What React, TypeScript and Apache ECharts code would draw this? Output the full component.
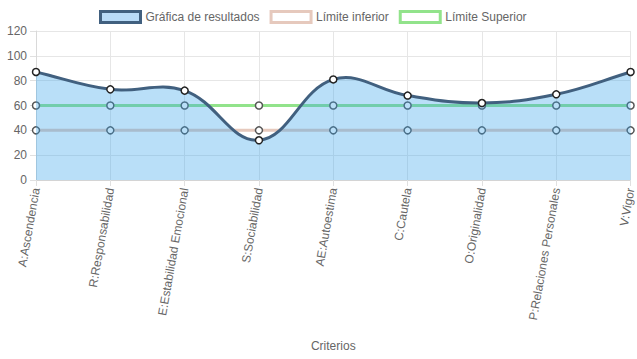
import React, { useEffect, useRef } from "react";
import * as echarts from "echarts";

const categories = [
  "A:Ascendencia",
  "R:Responsabilidad",
  "E:Estabilidad Emocional",
  "S:Sociabilidad",
  "AE:Autoestima",
  "C:Cautela",
  "O:Originalidad",
  "P:Relaciones Personales",
  "V:Vigor",
];
const resultados = [87, 73, 72, 32, 81, 68, 62, 69, 87];
const limiteInferior = [40, 40, 40, 40, 40, 40, 40, 40, 40];
const limiteSuperior = [60, 60, 60, 60, 60, 60, 60, 60, 60];
const yTicks = { min: 0, max: 120, interval: 20 };

const FONT = "Liberation Sans, Arial, Helvetica, sans-serif";
const TENSION = 0.4;

function splinePath(pts: number[][], area: { x: number; y: number; width: number; height: number }) {
  const n = pts.length;
  const clampX = (v: number) => Math.max(area.x, Math.min(area.x + area.width, v));
  const clampY = (v: number) => Math.max(area.y, Math.min(area.y + area.height, v));
  const cps: { prev: number[]; next: number[] }[] = [];
  for (let i = 0; i < n; i++) {
    const cur = pts[i];
    const prev = i > 0 ? pts[i - 1] : cur;
    const next = i < n - 1 ? pts[i + 1] : cur;
    const d01 = Math.hypot(cur[0] - prev[0], cur[1] - prev[1]);
    const d12 = Math.hypot(next[0] - cur[0], next[1] - cur[1]);
    let s01 = d01 / (d01 + d12);
    let s12 = d12 / (d01 + d12);
    if (!isFinite(s01)) s01 = 0;
    if (!isFinite(s12)) s12 = 0;
    const fa = TENSION * s01;
    const fb = TENSION * s12;
    cps.push({
      prev: [clampX(cur[0] - fa * (next[0] - prev[0])), clampY(cur[1] - fa * (next[1] - prev[1]))],
      next: [clampX(cur[0] + fb * (next[0] - prev[0])), clampY(cur[1] + fb * (next[1] - prev[1]))],
    });
  }
  let d = `M${pts[0][0]},${pts[0][1]}`;
  for (let i = 1; i < n; i++) {
    const a = cps[i - 1].next;
    const b = cps[i].prev;
    d += ` C${a[0]},${a[1]} ${b[0]},${b[1]} ${pts[i][0]},${pts[i][1]}`;
  }
  return d;
}

export default function App() {
  const ref = useRef<HTMLDivElement>(null);
  useEffect(() => {
    if (!ref.current) return;
    const chart = echarts.init(ref.current, undefined, { renderer: "svg" });
    const pointStyle = (border: string) => ({
      color: "#ffffff",
      borderColor: border,
      borderWidth: 1.5,
    });
    chart.setOption({
      animation: false,
      textStyle: { fontFamily: FONT },
      legend: {
        top: 5,
        left: 94,
        icon: "rect",
        itemWidth: 40,
        itemHeight: 11,
        itemGap: 10,
        textStyle: { color: "#666", fontSize: 12, fontFamily: FONT },
        data: [
          {
            name: "Gráfica de resultados",
            itemStyle: { color: "#b9dbf7", borderColor: "#41607f", borderWidth: 3 },
          },
          {
            name: "Límite inferior",
            itemStyle: { color: "#ffffff", borderColor: "#e6c9bd", borderWidth: 3 },
          },
          {
            name: "Límite Superior",
            itemStyle: { color: "#ffffff", borderColor: "#92e38b", borderWidth: 3 },
          },
        ],
      },
      grid: { left: 36, right: 4, top: 31, bottom: 179, containLabel: false },
      xAxis: {
        type: "category",
        data: categories,
        boundaryGap: false,
        name: "Criterios",
        nameLocation: "middle",
        nameGap: 160,
        nameTextStyle: { color: "#666", fontSize: 12, fontFamily: FONT },
        axisLine: { show: true, lineStyle: { color: "#d4d4d4", width: 1 } },
        axisTick: { show: true, length: 6, lineStyle: { color: "#e0e0e0" } },
        axisLabel: {
          rotate: 80,
          color: "#666",
          fontSize: 12,
          fontFamily: FONT,
          margin: 8,
          interval: 0,
        },
        splitLine: { show: true, lineStyle: { color: "#e6e6e6", width: 1 } },
      },
      yAxis: {
        type: "value",
        min: yTicks.min,
        max: yTicks.max,
        interval: yTicks.interval,
        axisLine: { show: true, lineStyle: { color: "#d9d9d9", width: 1 } },
        axisTick: { show: true, length: 6, lineStyle: { color: "#e0e0e0" } },
        axisLabel: { color: "#666", fontSize: 12, fontFamily: FONT, margin: 9 },
        splitLine: { show: true, lineStyle: { color: "#e6e6e6", width: 1 } },
      },
      series: [
        {
          name: "Límite inferior",
          type: "line",
          data: limiteInferior,
          z: 1,
          symbol: "circle",
          symbolSize: 7,
          lineStyle: { color: "#e6c9bd", width: 3 },
          itemStyle: pointStyle("#555"),
        },
        {
          name: "Límite Superior",
          type: "line",
          data: limiteSuperior,
          z: 1,
          symbol: "circle",
          symbolSize: 7,
          lineStyle: { color: "#92e38b", width: 3 },
          itemStyle: pointStyle("#555"),
        },
        {
          name: "Gráfica de resultados",
          type: "custom",
          z: 3,
          data: resultados.map((v, i) => [i, v]),
          encode: { x: 0, y: 1 },
          renderItem: (params: any, api: any) => {
            if (params.dataIndex !== 0) return null;
            const pts = resultados.map((v, i) => api.coord([i, v]));
            const area = params.coordSys;
            const d = splinePath(pts, area);
            const base = api.coord([0, yTicks.min])[1];
            const fillD = `${d} L${pts[pts.length - 1][0]},${base} L${pts[0][0]},${base} Z`;
            return {
              type: "group",
              children: [
                {
                  type: "path",
                  shape: { pathData: fillD },
                  style: { fill: "rgba(54,162,235,0.35)", stroke: "none" },
                },
                {
                  type: "path",
                  shape: { pathData: d },
                  style: { fill: "none", stroke: "#41607f", lineWidth: 3 },
                },
              ],
            };
          },
        },
        {
          name: "Gráfica de resultados",
          type: "line",
          data: resultados,
          z: 4,
          symbol: "circle",
          symbolSize: 7,
          lineStyle: { width: 0, opacity: 0 },
          itemStyle: pointStyle("#222"),
        },
      ],
    });
    return () => chart.dispose();
  }, []);
  return (
    <div
      ref={ref}
      style={{ position: "fixed", left: 0, top: 0, width: 637, height: 359, background: "#fff" }}
    />
  );
}
